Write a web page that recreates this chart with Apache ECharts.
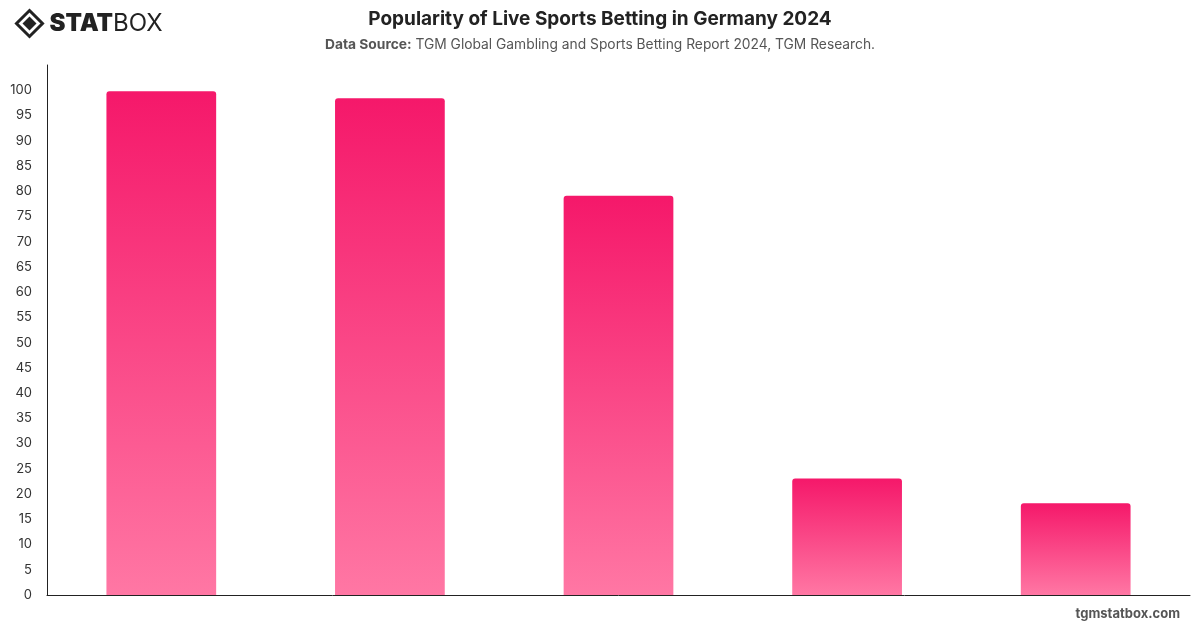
<!DOCTYPE html>
<html>
<head>
<meta charset="utf-8">
<script src="https://cdn.jsdelivr.net/npm/echarts@6/dist/echarts.min.js"></script>
<style>
html,body{margin:0;padding:0;background:#fff;}
#main{width:1200px;height:628px;}
</style>
</head>
<body>
<div id="main"></div>
<script>
// chart data
const categories = ['Category A', 'Category B', 'Category C', 'Category D', 'Category E']
const values = [99.8, 98.4, 79.1, 23.1, 18.2]
const yTicks = { min: 0, max: 105, interval: 5 }

const chart = echarts.init(document.getElementById('main'))

const option = {
  backgroundColor: '#fff',
  animation: false,
  title: {
    text: 'Popularity of Live Sports Betting in Germany 2024',
    left: 'center',
    top: 5,
    itemGap: 9,
    textStyle: {
      fontFamily: 'Inter',
      fontSize: 19,
      fontWeight: 'bold',
      color: '#222'
    },
    subtext: '{b|Data Source:} TGM Global Gambling and Sports Betting Report 2024, TGM Research.',
    subtextStyle: {
      fontFamily: 'Inter',
      fontSize: 13.8,
      color: '#555',
      rich: {
        b: { fontFamily: 'Inter', fontSize: 13.8, fontWeight: 'bold', color: '#555' }
      }
    }
  },
  grid: {
    left: 47,
    right: 10,
    top: 65,
    bottom: 33,
    containLabel: false
  },
  xAxis: {
    type: 'category',
    data: categories,
    axisLine: { show: true, lineStyle: { color: '#222', width: 1 } },
    axisTick: { show: false },
    axisLabel: { show: false }
  },
  yAxis: {
    type: 'value',
    min: yTicks.min,
    max: yTicks.max,
    interval: yTicks.interval,
    axisLine: { show: true, lineStyle: { color: '#222', width: 1 } },
    axisTick: { show: false },
    splitLine: { show: false },
    axisLabel: {
      showMaxLabel: false,
      margin: 15,
      fontFamily: 'Inter',
      fontSize: 13,
      color: '#333'
    }
  },
  series: [
    {
      type: 'bar',
      data: values,
      barWidth: '48%',
      itemStyle: {
        borderRadius: [3, 3, 0, 0],
        color: new echarts.graphic.LinearGradient(0, 0, 0, 1, [
          { offset: 0, color: '#F5186A' },
          { offset: 1, color: '#FF77A4' }
        ])
      }
    }
  ],
  graphic: [
    {
      type: 'group',
      left: 14,
      top: 8,
      children: [
        {
          type: 'polygon',
          shape: { points: [[13, 0], [26, 13], [13, 26], [0, 13]] },
          style: { fill: 'none', stroke: '#222', lineWidth: 3 }
        },
        {
          type: 'polygon',
          shape: { points: [[13, 6], [20, 13], [13, 20], [6, 13]] },
          style: { fill: '#222' }
        },
        {
          type: 'text',
          left: 33,
          top: 1,
          style: {
            text: '{a|STAT}{b|BOX}',
            rich: {
              a: { fontFamily: 'Inter', fontSize: 24, fontWeight: 900, fill: '#222' },
              b: { fontFamily: 'Inter', fontSize: 24, fontWeight: 'normal', fill: '#222' }
            }
          }
        }
      ]
    },
    {
      type: 'text',
      right: 20,
      top: 608,
      style: {
        text: 'tgmstatbox.com',
        fontFamily: 'Inter',
        fontSize: 13,
        fontWeight: 'bold',
        fill: '#555'
      }
    }
  ]
}

chart.setOption(option)
window.addEventListener('resize', () => {
  chart.resize()
})
</script>
</body>
</html>
